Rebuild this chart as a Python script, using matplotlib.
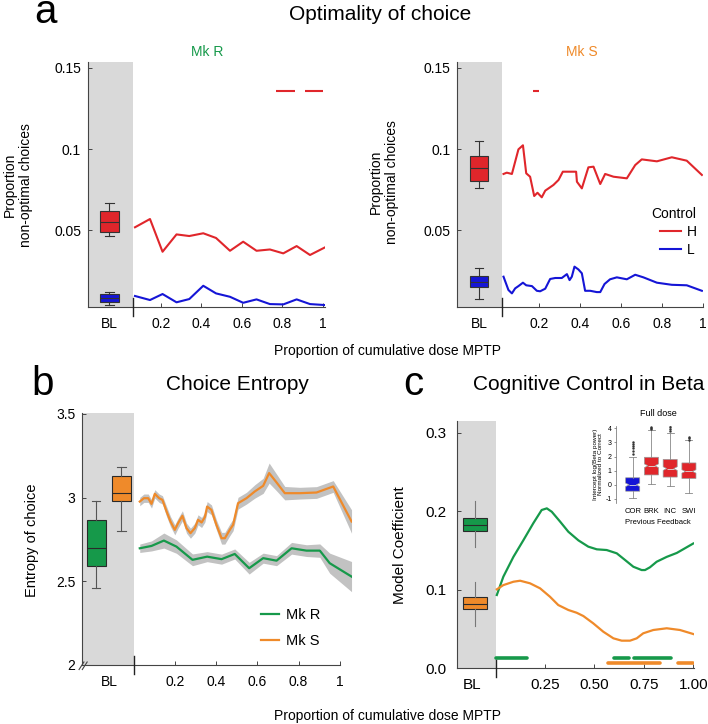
import matplotlib
matplotlib.use('Agg')
import matplotlib.pyplot as plt

plt.rcParams['font.family'] = ['Liberation Sans', 'DejaVu Sans']

RED = '#e0262b'
BLUE = '#1515d6'
GREEN = '#16994a'
ORANGE = '#ef8a2a'
SHADE = '#d9d9d9'
BAND = '#c2c2c2'
EDGE = '#333333'

# ---------------- data ----------------
# Panel a, Mk R
aR_x = [0.072, 0.146, 0.208, 0.277, 0.34, 0.409, 0.472, 0.541, 0.606, 0.672, 0.738, 0.804, 0.87, 0.936, 1.01]
aR_H = [0.0517, 0.0568, 0.0366, 0.0473, 0.0463, 0.048, 0.0451, 0.0372, 0.0428, 0.0372, 0.038, 0.0356, 0.0401, 0.0346, 0.0393]
aR_L = [0.0093, 0.0068, 0.0105, 0.0054, 0.0074, 0.0156, 0.0109, 0.0088, 0.0051, 0.0072, 0.0043, 0.0041, 0.0072, 0.0043, 0.0037]
aR_box_H = dict(med=0.055, q1=0.0485, q3=0.0615, whislo=0.0463, whishi=0.0667, fliers=[])
aR_box_L = dict(med=0.008, q1=0.0057, q3=0.0105, whislo=0.0037, whishi=0.0119, fliers=[])
aR_sig = [(0.768, 0.862), (0.911, 1.0)]
aR_sig_y = 0.136

# Panel a, Mk S
aS_xH = [0.026, 0.042, 0.067, 0.099, 0.121, 0.137, 0.156, 0.176, 0.192, 0.213, 0.23, 0.27, 0.295, 0.316,
         0.352, 0.381, 0.385, 0.409, 0.441, 0.466, 0.499, 0.523, 0.564, 0.629, 0.67, 0.702, 0.776, 0.849, 0.922, 0.996]
aS_H = [0.0846, 0.0854, 0.0846, 0.0998, 0.1023, 0.085, 0.0829, 0.071, 0.073, 0.0702, 0.0743, 0.0778, 0.0809, 0.086,
        0.086, 0.086, 0.0798, 0.0757, 0.0887, 0.0891, 0.0784, 0.0846, 0.0829, 0.0819, 0.0901, 0.0936, 0.0924, 0.0949, 0.0928, 0.084]
aS_xL = [0.026, 0.05, 0.067, 0.083, 0.099, 0.121, 0.137, 0.165, 0.189, 0.205, 0.23, 0.254, 0.279, 0.311, 0.336, 0.349,
         0.36, 0.373, 0.392, 0.409, 0.425, 0.45, 0.482, 0.499, 0.52, 0.547, 0.58, 0.629, 0.67, 0.71, 0.776, 0.849, 0.922, 0.996]
aS_L = [0.0212, 0.013, 0.0109, 0.014, 0.0154, 0.0175, 0.0159, 0.0154, 0.0125, 0.0122, 0.0138, 0.0198, 0.0204, 0.0204,
        0.0228, 0.0191, 0.0212, 0.0274, 0.0257, 0.0233, 0.0125, 0.0125, 0.0117, 0.0117, 0.0167, 0.0196, 0.0208, 0.0196,
        0.0224, 0.0208, 0.0175, 0.0162, 0.0159, 0.0125]
aS_box_H = dict(med=0.088, q1=0.0804, q3=0.0959, whislo=0.0757, whishi=0.105, fliers=[])
aS_box_L = dict(med=0.0181, q1=0.0146, q3=0.0216, whislo=0.0072, whishi=0.0264, fliers=[])
aS_sig = [(0.17, 0.199)]
aS_sig_y = 0.136

# Panel b, choice entropy
bS_x = [0.029, 0.049, 0.07, 0.086, 0.102, 0.123, 0.139, 0.159, 0.178, 0.199, 0.215, 0.236, 0.256, 0.275, 0.296, 0.312,
        0.329, 0.345, 0.356, 0.377, 0.401, 0.426, 0.442, 0.466, 0.482, 0.506, 0.547, 0.587, 0.628, 0.657, 0.693, 0.733,
        0.806, 0.887, 0.968, 1.057]
bS_y = [2.976, 2.996, 2.996, 2.962, 3.022, 2.996, 2.986, 2.917, 2.857, 2.807, 2.847, 2.891, 2.817, 2.787, 2.817, 2.867,
        2.851, 2.883, 2.946, 2.926, 2.837, 2.757, 2.757, 2.807, 2.837, 2.966, 2.996, 3.036, 3.07, 3.146, 3.09, 3.026,
        3.026, 3.03, 3.066, 2.857]
bS_err = [0.025, 0.025, 0.025, 0.025, 0.025, 0.025, 0.025, 0.03, 0.03, 0.03, 0.03, 0.03, 0.03, 0.03, 0.03, 0.03,
          0.03, 0.03, 0.03, 0.03, 0.03, 0.035, 0.035, 0.035, 0.035, 0.035, 0.035, 0.04, 0.045, 0.06, 0.05, 0.04,
          0.035, 0.035, 0.035, 0.07]
bR_x = [0.029, 0.086, 0.146, 0.207, 0.285, 0.356, 0.426, 0.49, 0.56, 0.628, 0.693, 0.766, 0.838, 0.903, 0.951, 1.057]
bR_y = [2.697, 2.711, 2.743, 2.707, 2.628, 2.647, 2.632, 2.663, 2.578, 2.638, 2.623, 2.697, 2.683, 2.683, 2.608, 2.528]
bR_err = [0.025, 0.03, 0.045, 0.04, 0.035, 0.03, 0.03, 0.03, 0.035, 0.03, 0.03, 0.035, 0.035, 0.04, 0.06, 0.09]
bR_box = dict(med=2.70, q1=2.59, q3=2.867, whislo=2.46, whishi=2.98, fliers=[])
bS_box = dict(med=3.026, q1=2.98, q3=3.13, whislo=2.80, whishi=3.18, fliers=[])

# Panel c, cognitive control in beta
cR_x = [0.006, 0.039, 0.09, 0.14, 0.191, 0.233, 0.259, 0.284, 0.326, 0.368, 0.419, 0.469, 0.512, 0.562, 0.613, 0.655,
        0.697, 0.739, 0.756, 0.781, 0.815, 0.866, 0.917, 1.0]
cR_y = [0.0934, 0.1167, 0.142, 0.163, 0.185, 0.2017, 0.2038, 0.1995, 0.187, 0.174, 0.163, 0.155, 0.1516, 0.1507,
        0.1465, 0.138, 0.1294, 0.1252, 0.1252, 0.1287, 0.1358, 0.142, 0.147, 0.159]
cS_x = [0.006, 0.039, 0.09, 0.124, 0.174, 0.225, 0.275, 0.317, 0.368, 0.41, 0.444, 0.494, 0.545, 0.596, 0.638, 0.68,
        0.714, 0.747, 0.798, 0.866, 0.933, 1.0]
cS_y = [0.1006, 0.106, 0.1103, 0.1116, 0.1083, 0.1019, 0.0912, 0.0806, 0.0743, 0.0708, 0.0666, 0.0573, 0.0466, 0.0382,
        0.0352, 0.0352, 0.0382, 0.0446, 0.0488, 0.051, 0.0488, 0.0437]
cR_box = dict(med=0.183, q1=0.175, q3=0.191, whislo=0.154, whishi=0.2135, fliers=[])
cS_box = dict(med=0.082, q1=0.075, q3=0.0904, whislo=0.054, whishi=0.11, fliers=[])
cR_sig = [(0.0, 0.16), (0.6, 0.677), (0.702, 0.886)]
cR_sig_y = 0.0127
cS_sig = [(0.57, 0.83), (0.925, 1.0)]
cS_sig_y = 0.007

# Inset (full dose)
inset_labels = ['COR', 'BRK', 'INC', 'SWI']
inset_stats = [
    dict(med=0.0, q1=-0.45, q3=0.5, whislo=-0.95, whishi=1.95, cilo=-0.12, cihi=0.12,
         fliers=[2.2, 2.4, 2.6, 2.75, 2.9, 3.0]),
    dict(med=1.35, q1=0.7, q3=1.95, whislo=0.05, whishi=3.9, cilo=1.22, cihi=1.48,
         fliers=[3.95, 4.05, 4.12]),
    dict(med=1.15, q1=0.55, q3=1.8, whislo=-0.05, whishi=3.65, cilo=1.02, cihi=1.28,
         fliers=[3.8, 3.95, 4.1, 4.25]),
    dict(med=0.95, q1=0.45, q3=1.55, whislo=-0.55, whishi=3.15, cilo=0.83, cihi=1.07,
         fliers=[3.2, 3.3, 3.4]),
]
inset_colors = [BLUE, RED, RED, RED]

# ---------------- figure ----------------
W, H = 708, 724
fig = plt.figure(figsize=(W / 100, H / 100), dpi=100)


def fx(x):
    return x / W


def fy(y):
    return 1 - y / H


def style_axes(ax, tick_fs):
    for s in ('top', 'right'):
        ax.spines[s].set_visible(False)
    for s in ('left', 'bottom'):
        ax.spines[s].set_color('#444444')
        ax.spines[s].set_linewidth(0.8)
    ax.tick_params(axis='both', which='major', direction='in', length=3, width=0.7,
                   colors='#444444', labelcolor='black', labelsize=tick_fs)
    ax.tick_params(axis='x', which='major', pad=7)
    ax.tick_params(axis='y', which='major', pad=5)
    ax.tick_params(axis='x', which='minor', length=0, pad=7, labelsize=tick_fs)


def draw_box(ax, stats, pos, width, color, caps=True, edge=EDGE, whisk='#333333'):
    ax.bxp([stats], positions=[pos], widths=width, patch_artist=True, showfliers=False,
           manage_ticks=False,
           boxprops=dict(facecolor=color, edgecolor=edge, linewidth=0.8),
           medianprops=dict(color=edge, linewidth=0.8),
           whiskerprops=dict(color=whisk, linewidth=0.8),
           capprops=dict(color=whisk, linewidth=0.8 if caps else 0),
           capwidths=width * 0.45 if caps else 0)


def boundary_tick(ax, xb):
    ax.plot([xb, xb], [-0.035, 0.035], transform=ax.get_xaxis_transform(), color='#222222',
            lw=1.0, clip_on=False, zorder=5)


# ---- panel a, left (Mk R)
axA1 = fig.add_axes([fx(88), fy(307), fx(237), (307 - 62) / H])
xl, xb = -0.16, 0.062
axA1.axvspan(xl, xb, color=SHADE, lw=0, zorder=0)
axA1.plot(aR_x, aR_H, color=RED, lw=1.5, zorder=3)
axA1.plot(aR_x, aR_L, color=BLUE, lw=1.5, zorder=3)
draw_box(axA1, aR_box_H, -0.054, 0.092, RED)
draw_box(axA1, aR_box_L, -0.054, 0.092, BLUE)
for a0, a1 in aR_sig:
    axA1.plot([a0, a1], [aR_sig_y, aR_sig_y], color=RED, lw=1.5, solid_capstyle='butt')
axA1.set_xlim(xl, 1.01)
axA1.set_ylim(0.0025, 0.1537)
style_axes(axA1, 10)
axA1.set_yticks([0.05, 0.1, 0.15])
axA1.set_yticklabels(['0.05', '0.1', '0.15'])
axA1.set_xticks([0.2, 0.4, 0.6, 0.8, 1.0])
axA1.set_xticklabels(['0.2', '0.4', '0.6', '0.8', '1'])
axA1.set_xticks([-0.054], minor=True)
axA1.set_xticklabels(['BL'], minor=True)
boundary_tick(axA1, xb)

# ---- panel a, right (Mk S)
axA2 = fig.add_axes([fx(457.3), fy(307), fx(245.4), (307 - 62) / H])
xl2, xb2 = -0.2, 0.018
axA2.axvspan(xl2, xb2, color=SHADE, lw=0, zorder=0)
axA2.plot(aS_xH, aS_H, color=RED, lw=1.5, zorder=3, label='H')
axA2.plot(aS_xL, aS_L, color=BLUE, lw=1.5, zorder=3, label='L')
draw_box(axA2, aS_box_H, -0.093, 0.09, RED)
draw_box(axA2, aS_box_L, -0.093, 0.09, BLUE)
for a0, a1 in aS_sig:
    axA2.plot([a0, a1], [aS_sig_y, aS_sig_y], color=RED, lw=1.5, solid_capstyle='butt')
axA2.set_xlim(xl2, 1.0)
axA2.set_ylim(0.0025, 0.1537)
style_axes(axA2, 10)
axA2.set_yticks([0.05, 0.1, 0.15])
axA2.set_yticklabels(['0.05', '0.1', '0.15'])
axA2.set_xticks([0.2, 0.4, 0.6, 0.8, 1.0])
axA2.set_xticklabels(['0.2', '0.4', '0.6', '0.8', '1'])
axA2.set_xticks([-0.093], minor=True)
axA2.set_xticklabels(['BL'], minor=True)
boundary_tick(axA2, xb2)
legA = axA2.legend(title='Control', loc='center', bbox_to_anchor=(fx(674), fy(232)),
                   bbox_transform=fig.transFigure, frameon=False, fontsize=10, title_fontsize=10,
                   handlelength=1.5, handletextpad=0.4, labelspacing=0.3, borderpad=0)
legA._legend_box.align = 'right'

# ---- panel b
axB = fig.add_axes([fx(82.3), fy(665), 1.31 * 206 / W, (665 - 413.3) / H])
xlb = -0.25
axB.axvspan(xlb, 0.0, color=SHADE, lw=0, zorder=0)
axB.fill_between(bS_x, [y - e for y, e in zip(bS_y, bS_err)], [y + e for y, e in zip(bS_y, bS_err)],
                 color=BAND, lw=0, zorder=2)
axB.fill_between(bR_x, [y - e for y, e in zip(bR_y, bR_err)], [y + e for y, e in zip(bR_y, bR_err)],
                 color=BAND, lw=0, zorder=2)
axB.plot(bR_x, bR_y, color=GREEN, lw=1.6, zorder=3, label='Mk R')
axB.plot(bS_x, bS_y, color=ORANGE, lw=1.6, zorder=3, label='Mk S')
draw_box(axB, bR_box, -0.183, 0.092, GREEN, edge='#2a2a2a', whisk='#555555')
draw_box(axB, bS_box, -0.06, 0.088, ORANGE, edge='#2a2a2a', whisk='#555555')
axB.set_xlim(xlb, 1.06)
axB.set_ylim(2.0, 3.503)
style_axes(axB, 10)
axB.spines['bottom'].set_bounds(xlb, 1.0)
axB.set_yticks([2, 2.5, 3, 3.5])
axB.set_yticklabels(['2', '2.5', '3', '3.5'])
axB.set_xticks([0.2, 0.4, 0.6, 0.8, 1.0])
axB.set_xticklabels(['0.2', '0.4', '0.6', '0.8', '1'])
axB.set_xticks([-0.117], minor=True)
axB.set_xticklabels(['BL'], minor=True)
boundary_tick(axB, 0.0)
# axis break marks
for dx in (0.0, 0.012):
    axB.plot([-0.012 + dx, 0.006 + dx], [-0.018, 0.012], transform=axB.transAxes, color='#444444',
             lw=0.8, clip_on=False)
axB.legend(loc='center', bbox_to_anchor=(fx(291), fy(628)), bbox_transform=fig.transFigure,
           frameon=False, fontsize=10.5, handlelength=1.2, handletextpad=0.5, labelspacing=0.8,
           borderpad=0)

# ---- panel c
axC = fig.add_axes([fx(456.7), fy(668.3), 1.2 * 197.6 / W, (668.3 - 420.7) / H])
xlc = -0.197
axC.axvspan(xlc, 0.0, color=SHADE, lw=0, zorder=0)
axC.plot(cR_x, cR_y, color=GREEN, lw=1.6, zorder=3)
axC.plot(cS_x, cS_y, color=ORANGE, lw=1.6, zorder=3)
draw_box(axC, cR_box, -0.104, 0.118, GREEN, caps=False, edge='#2a2a2a', whisk='#777777')
draw_box(axC, cS_box, -0.104, 0.118, ORANGE, caps=False, edge='#2a2a2a', whisk='#777777')
for a0, a1 in cR_sig:
    axC.plot([a0, a1], [cR_sig_y, cR_sig_y], color=GREEN, lw=2.6, solid_capstyle='round', zorder=3)
for a0, a1 in cS_sig:
    axC.plot([a0, a1], [cS_sig_y, cS_sig_y], color=ORANGE, lw=2.6, solid_capstyle='round', zorder=3)
axC.set_xlim(xlc, 1.003)
axC.set_ylim(0, 0.3155)
style_axes(axC, 11)
axC.tick_params(axis='y', which='major', pad=7)
axC.set_yticks([0, 0.1, 0.2, 0.3])
axC.set_yticklabels(['0.0', '0.1', '0.2', '0.3'])
axC.set_xticks([0.25, 0.5, 0.75, 1.0])
axC.set_xticklabels(['0.25', '0.50', '0.75', '1.00'])
axC.set_xticks([-0.121], minor=True)
axC.set_xticklabels(['BL'], minor=True)
boundary_tick(axC, 0.0)

# ---- inset
axI = fig.add_axes([fx(616), fy(502.5), fx(84), 76.3 / H])
axI.bxp(inset_stats, positions=[1, 2, 3, 4], widths=0.75, patch_artist=True, showfliers=True,
        shownotches=True, manage_ticks=False,
        boxprops=dict(edgecolor='#999999', linewidth=0.5),
        medianprops=dict(color='#dddddd', linewidth=0.6),
        whiskerprops=dict(color='#888888', linewidth=0.6),
        capprops=dict(color='#888888', linewidth=0.6),
        flierprops=dict(marker='.', markersize=1.5, markerfacecolor='#333333', markeredgecolor='#333333'))
for patch, col in zip(axI.patches, inset_colors):
    patch.set_facecolor(col)
axI.set_xlim(0.11, 4.59)
axI.set_ylim(-1.25, 4.15)
for s in ('top', 'right', 'bottom'):
    axI.spines[s].set_visible(False)
axI.spines['left'].set_linewidth(0.5)
axI.spines['left'].set_color('#666666')
axI.set_yticks([-1, 0, 1, 2, 3, 4])
axI.set_yticklabels(['-1', '0', '1', '2', '3', '4'])
axI.tick_params(axis='y', length=1.5, width=0.5, pad=1.5, labelsize=5, colors='#666666', labelcolor='black')
axI.set_xticks([1, 2, 3, 4])
axI.set_xticklabels(inset_labels)
axI.tick_params(axis='x', length=0, pad=4, labelsize=5.5)
axI.set_title('Full dose', fontsize=6.5, pad=7)
axI.set_xlabel('Previous Feedback', fontsize=5.5, labelpad=2.5)
axI.set_ylabel('Intercept log(Beta power)\nNormalized to Correct', fontsize=4.6, labelpad=1.5, linespacing=1.0)

# ---- texts
fig.text(fx(46), fy(23), 'a', fontsize=29, ha='center', va='baseline')
fig.text(fx(43), fy(395), 'b', fontsize=29, ha='center', va='baseline')
fig.text(fx(413), fy(395), 'c', fontsize=29, ha='center', va='baseline')
fig.text(fx(380), fy(14), 'Optimality of choice', fontsize=15, ha='center', va='center')
fig.text(fx(237.5), fy(385), 'Choice Entropy', fontsize=15, ha='center', va='center')
fig.text(fx(589), fy(385), 'Cognitive Control in Beta', fontsize=15, ha='center', va='center')
fig.text(fx(207), fy(52), 'Mk R', fontsize=10, color=GREEN, ha='center', va='center')
fig.text(fx(581.7), fy(52), 'Mk S', fontsize=10, color=ORANGE, ha='center', va='center')
fig.text(fx(388), fy(351), 'Proportion of cumulative dose MPTP', fontsize=10, ha='center', va='center')
fig.text(fx(388), fy(716), 'Proportion of cumulative dose MPTP', fontsize=10, ha='center', va='center')
fig.text(fx(18), fy(185), 'Proportion\nnon-optimal choices', fontsize=10, rotation=90,
         ha='center', va='center', multialignment='center')
fig.text(fx(384), fy(182), 'Proportion\nnon-optimal choices', fontsize=10, rotation=90,
         ha='center', va='center', multialignment='center')
fig.text(fx(32), fy(540), 'Entropy of choice', fontsize=10.5, rotation=90, ha='center', va='center')
fig.text(fx(400), fy(545), 'Model Coefficient', fontsize=11, rotation=90, ha='center', va='center')

fig.savefig('out.png', dpi=100)
